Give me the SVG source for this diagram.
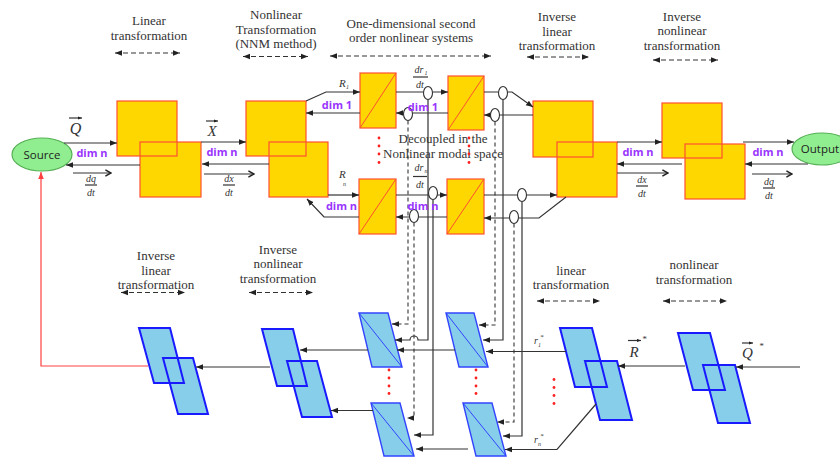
<svg xmlns="http://www.w3.org/2000/svg" width="840" height="458" viewBox="0 0 840 458">
<defs>
<marker id="ah" viewBox="0 0 10 10" refX="10" refY="5" markerWidth="7" markerHeight="7" orient="auto-start-reverse" markerUnits="userSpaceOnUse"><path d="M0,1 L10,5 L0,9 z" fill="#222"/></marker>
<marker id="ahr" viewBox="0 0 10 10" refX="10" refY="5" markerWidth="7" markerHeight="7" orient="auto" markerUnits="userSpaceOnUse"><path d="M0,1 L10,5 L0,9 z" fill="#ff4040"/></marker>
<marker id="sah" viewBox="0 0 10 10" refX="10" refY="5" markerWidth="4" markerHeight="4" orient="auto" markerUnits="userSpaceOnUse"><path d="M0,1 L10,5 L0,9 z" fill="#222"/></marker>
<marker id="chev" viewBox="0 0 10 10" refX="9" refY="5" markerWidth="8" markerHeight="8" orient="auto" markerUnits="userSpaceOnUse"><path d="M2,1 L9,5 L2,9" fill="none" stroke="#222" stroke-width="1.8"/></marker>
</defs>
<style>
.ser{font-family:"Liberation Serif","DejaVu Serif",serif;font-size:13px;fill:#333;text-anchor:middle}
.it{font-family:"Liberation Serif","DejaVu Serif",serif;font-style:italic;fill:#333}
.fr{font-family:"Liberation Serif","DejaVu Serif",serif;font-style:italic;font-size:10px;fill:#333;text-anchor:middle}
.dim{font-family:"Open Sans","Liberation Sans",sans-serif;font-size:11px;font-weight:bold;fill:#9933ff;text-anchor:middle}
.ell{font-family:"Open Sans","Liberation Sans",sans-serif;font-size:11.5px;fill:#222;text-anchor:middle}
.yf{fill:#ffd700;stroke:none}
.ys{fill:none;stroke:#ff5030;stroke-width:1.2}
.bf{fill:#87ceeb;stroke:none}
.bs{fill:none;stroke:#1a1aff;stroke-width:2}
.bs2{fill:none;stroke:#3344ff;stroke-width:1.4}
.bd{stroke:#3344ff;stroke-width:1}
.yd{stroke:#ff5030;stroke-width:1}
.ln{fill:none;stroke:#333;stroke-width:1.2}
.da{fill:none;stroke:#333;stroke-width:1.2;stroke-dasharray:5,3}
.dsh{fill:none;stroke:#333;stroke-width:1.1;stroke-dasharray:4,3}
.oc{fill:#fff;stroke:#333;stroke-width:1.1}
.rd{fill:#ff2020}
</style>

<!-- section labels -->
<g id="labels">
<text class="ser" x="149" y="25">Linear</text>
<text class="ser" x="149" y="40">transformation</text>
<text class="ser" x="276" y="18.5">Nonlinear</text>
<text class="ser" x="276" y="33.5">Transformation</text>
<text class="ser" x="276" y="48">(NNM method)</text>
<text class="ser" x="411" y="27.5">One-dimensional second</text>
<text class="ser" x="411" y="42">order nonlinear systems</text>
<text class="ser" x="557" y="20.5">Inverse</text>
<text class="ser" x="557" y="36">linear</text>
<text class="ser" x="557" y="50">transformation</text>
<text class="ser" x="682" y="20.5">Inverse</text>
<text class="ser" x="682" y="35">nonlinear</text>
<text class="ser" x="682" y="49.5">transformation</text>
<text class="ser" x="443" y="143">Decoupled in the</text>
<text class="ser" x="443" y="157.5">Nonlinear modal space</text>
<text class="ser" x="156" y="259.5">Inverse</text>
<text class="ser" x="156" y="274.5">linear</text>
<text class="ser" x="156" y="288.5">transformation</text>
<text class="ser" x="278" y="253.5">Inverse</text>
<text class="ser" x="278" y="268">nonlinear</text>
<text class="ser" x="278" y="283">transformation</text>
<text class="ser" x="571" y="275">linear</text>
<text class="ser" x="571" y="289">transformation</text>
<text class="ser" x="694" y="268.5">nonlinear</text>
<text class="ser" x="694" y="283.5">transformation</text>
</g>

<!-- dashed span arrows -->
<g id="spans">
<path class="da" d="M115,53 L180,53" marker-start="url(#ah)" marker-end="url(#ah)"/>
<path class="da" d="M243,56.5 L308,56.5" marker-start="url(#ah)" marker-end="url(#ah)"/>
<path class="da" d="M330,56 L491,56" marker-start="url(#ah)" marker-end="url(#ah)"/>
<path class="da" d="M527,57 L589,57" marker-start="url(#ah)" marker-end="url(#ah)"/>
<path class="da" d="M653,60 L718,60" marker-start="url(#ah)" marker-end="url(#ah)"/>
<path class="da" d="M121,292.5 L185,292.5" marker-start="url(#ah)" marker-end="url(#ah)"/>
<path class="da" d="M249,292.5 L313,292.5" marker-start="url(#ah)" marker-end="url(#ah)"/>
<path class="da" d="M537,301 L600,301" marker-start="url(#ah)" marker-end="url(#ah)"/>
<path class="da" d="M663,301 L727,301" marker-start="url(#ah)" marker-end="url(#ah)"/>
</g>

<!-- nodes: top -->
<g id="source"><ellipse cx="42" cy="154.5" rx="30" ry="16.5" fill="#90ee90" stroke="#55b055" stroke-width="1.2"/><text class="ell" x="42" y="158.5">Source</text></g>
<g id="output"><ellipse cx="822" cy="149" rx="30" ry="16" fill="#90ee90" stroke="#55b055" stroke-width="1.2"/><text class="ell" x="820" y="153">Output</text></g>

<g id="linear-transform">
<rect class="yf" x="117" y="101" width="60" height="55"/><rect class="yf" x="140" y="142" width="61" height="55"/>
<rect class="ys" x="117" y="101" width="60" height="55"/><rect class="ys" x="140" y="142" width="61" height="55"/>
</g>
<g id="nonlinear-transform">
<rect class="yf" x="246" y="101" width="60" height="55"/><rect class="yf" x="269" y="142" width="59" height="55"/>
<rect class="ys" x="246" y="101" width="60" height="55"/><rect class="ys" x="269" y="142" width="59" height="55"/>
</g>
<g id="inv-linear-transform">
<rect class="yf" x="533" y="101" width="60" height="56"/><rect class="yf" x="557" y="142" width="60" height="55"/>
<rect class="ys" x="533" y="101" width="60" height="56"/><rect class="ys" x="557" y="142" width="60" height="55"/>
</g>
<g id="inv-nonlinear-transform">
<rect class="yf" x="662" y="103" width="60" height="55"/><rect class="yf" x="685" y="144" width="60" height="55"/>
<rect class="ys" x="662" y="103" width="60" height="55"/><rect class="ys" x="685" y="144" width="60" height="55"/>
</g>
<g id="sys1a"><rect class="yf" x="360" y="73" width="36" height="55"/><rect class="ys" x="360" y="73" width="36" height="55"/><line class="yd" x1="360" y1="128" x2="396" y2="73"/></g>
<g id="sys1b"><rect class="yf" x="448" y="76" width="36" height="54"/><rect class="ys" x="448" y="76" width="36" height="54"/><line class="yd" x1="448" y1="130" x2="484" y2="76"/></g>
<g id="sysna"><rect class="yf" x="359" y="179" width="37" height="55"/><rect class="ys" x="359" y="179" width="37" height="55"/><line class="yd" x1="359" y1="234" x2="396" y2="179"/></g>
<g id="sysnb"><rect class="yf" x="447" y="179" width="37" height="55"/><rect class="ys" x="447" y="179" width="37" height="55"/><line class="yd" x1="447" y1="234" x2="484" y2="179"/></g>

<!-- nodes: bottom -->
<g id="b-inv-linear">
<polygon class="bf" points="139,328 170,328 184,383 154,383"/><polygon class="bf" points="163,358 193,358 208,414 178,414"/>
<polygon class="bs" points="139,328 170,328 184,383 154,383"/><polygon class="bs" points="163,358 193,358 208,414 178,414"/>
</g>
<g id="b-inv-nonlinear">
<polygon class="bf" points="262,329 293,329 307,386 277,386"/><polygon class="bf" points="287,361 317,361 332,417 302,417"/>
<polygon class="bs" points="262,329 293,329 307,386 277,386"/><polygon class="bs" points="287,361 317,361 332,417 302,417"/>
</g>
<g id="b-sys1a"><polygon class="bf" points="359,313 388,313 402,367 372,367"/><polygon class="bs2" points="359,313 388,313 402,367 372,367"/><line class="bd" x1="359" y1="313" x2="402" y2="367"/></g>
<g id="b-sysna"><polygon class="bf" points="371,403 400,403 414,456 384,456"/><polygon class="bs2" points="371,403 400,403 414,456 384,456"/><line class="bd" x1="371" y1="403" x2="414" y2="456"/></g>
<g id="b-sys1b"><polygon class="bf" points="446,313 474,313 488,367 459,367"/><polygon class="bs2" points="446,313 474,313 488,367 459,367"/><line class="bd" x1="446" y1="313" x2="488" y2="367"/></g>
<g id="b-sysnb"><polygon class="bf" points="463,403 492,403 506,456 476,456"/><polygon class="bs2" points="463,403 492,403 506,456 476,456"/><line class="bd" x1="463" y1="403" x2="506" y2="456"/></g>
<g id="b-linear">
<polygon class="bf" points="560,328 592,328 607,387 575,387"/><polygon class="bf" points="585,361 617,361 632,420 600,420"/>
<polygon class="bs" points="560,328 592,328 607,387 575,387"/><polygon class="bs" points="585,361 617,361 632,420 600,420"/>
</g>
<g id="b-nonlinear">
<polygon class="bf" points="678,333 710,333 725,390 693,390"/><polygon class="bf" points="703,365 735,365 750,423 718,423"/>
<polygon class="bs" points="678,333 710,333 725,390 693,390"/><polygon class="bs" points="703,365 735,365 750,423 718,423"/>
</g>

<!-- connectors -->
<g id="connectors">
<path class="ln" d="M64,143 L117,143" marker-end="url(#ah)"/>
<path class="ln" d="M140,165 L66,165" marker-end="url(#ah)"/>
<path class="ln" d="M73,173 L111,173" marker-end="url(#chev)"/>
<path class="ln" d="M201,142 L246,142" marker-end="url(#ah)"/>
<path class="ln" d="M269,164 L202,164" marker-end="url(#ah)"/>
<path class="ln" d="M204,174 L254,174" marker-end="url(#chev)"/>
<path class="ln" d="M306,101 L326,92 L360,92" marker-end="url(#ah)"/>
<path class="ln" d="M360,113 L306,113" marker-end="url(#ah)"/>
<path class="ln" d="M328,195 L359,195" marker-end="url(#ah)"/>
<path class="ln" d="M359,217 L324,217 L307,199" marker-end="url(#ah)"/>
<path class="ln" d="M396,92 L448,92" marker-end="url(#ah)"/>
<path class="ln" d="M448,113 L396,113" marker-end="url(#ah)"/>
<path class="ln" d="M396,195 L447,195" marker-end="url(#ah)"/>
<path class="ln" d="M447,217 L396,217" marker-end="url(#ah)"/>
<path class="ln" d="M484,92 L512,92 L533,107" marker-end="url(#ah)"/>
<path class="ln" d="M533,115 L484,115" marker-end="url(#ah)"/>
<path class="ln" d="M484,195 L557,195" marker-end="url(#ah)"/>
<path class="ln" d="M566,197 L539,218 L484,218" marker-end="url(#ah)"/>
<path class="ln" d="M617,142 L662,142" marker-end="url(#ah)"/>
<path class="ln" d="M682,164 L617,164" marker-end="url(#ah)"/>
<path class="ln" d="M617,173 L668,173" marker-end="url(#chev)"/>
<path class="ln" d="M743,142 L794,142" marker-end="url(#ah)"/>
<path class="ln" d="M808,164 L745,164" marker-end="url(#ah)"/>
<path class="ln" d="M752,174 L792,174" marker-end="url(#chev)"/>
<!-- vertical feeds -->
<path class="dsh" d="M408,120.5 L408,324 L398,324"/><path class="ln" d="M398,324 L392,324" marker-end="url(#ah)"/>
<path class="ln" d="M428,99.5 L428,340 L418,340 A4,4 0 0 0 410,340 L395,340" marker-end="url(#ah)"/>
<path class="dsh" d="M414,222.5 L414,418 L407,418" marker-end="url(#ah)"/>
<path class="ln" d="M433,199.5 L433,435 L414,435" marker-end="url(#ah)"/>
<path class="dsh" d="M495,121.5 L495,325 L479,325" marker-end="url(#ah)"/>
<path class="ln" d="M503,99.5 L503,340 L483,340" marker-end="url(#ah)"/>
<path class="dsh" d="M514,223.5 L514,422 L497,422" marker-end="url(#ah)"/>
<path class="ln" d="M522,201.5 L522,436 L503,436" marker-end="url(#ah)"/>
<!-- bottom -->
<path d="M148,366 L41,366 L41,172" fill="none" stroke="#ff4040" stroke-width="1.2" marker-end="url(#ahr)"/>
<path class="ln" d="M270,367 L196,367" marker-end="url(#ah)"/>
<path class="ln" d="M368,350 L300,350" marker-end="url(#ah)"/>
<path class="ln" d="M373,410.5 L331,410.5" marker-end="url(#ah)"/>
<path class="ln" d="M455,350 L397,350" marker-end="url(#ah)"/>
<path class="ln" d="M468,449 L416,449" marker-end="url(#ah)"/>
<path class="ln" d="M566,351.5 L486,351.5" marker-end="url(#ah)"/>
<path class="ln" d="M596,404 L557,449.5 L505,449.5" marker-end="url(#ah)"/>
<path class="ln" d="M685,366 L618,366" marker-end="url(#ah)"/>
<path class="ln" d="M800,367 L736,367" marker-end="url(#ah)"/>
<!-- junction ovals -->
<ellipse class="oc" cx="428" cy="93" rx="4.5" ry="6.5"/>
<ellipse class="oc" cx="408" cy="114" rx="4.5" ry="6.5"/>
<ellipse class="oc" cx="433" cy="193" rx="4.5" ry="6.5"/>
<ellipse class="oc" cx="414" cy="216" rx="4.5" ry="6.5"/>
<ellipse class="oc" cx="503" cy="93" rx="4.5" ry="6.5"/>
<ellipse class="oc" cx="495" cy="115" rx="4.5" ry="6.5"/>
<ellipse class="oc" cx="522" cy="195" rx="4.5" ry="6.5"/>
<ellipse class="oc" cx="514" cy="217" rx="4.5" ry="6.5"/>
</g>

<!-- dots -->
<g id="dots">
<circle class="rd" cx="379" cy="138" r="1.4"/><circle class="rd" cx="379" cy="146" r="1.4"/><circle class="rd" cx="379" cy="154" r="1.4"/><circle class="rd" cx="379" cy="162.5" r="1.4"/>
<circle class="rd" cx="469" cy="138" r="1.4"/><circle class="rd" cx="469" cy="146" r="1.4"/><circle class="rd" cx="469" cy="154" r="1.4"/><circle class="rd" cx="469" cy="162.5" r="1.4"/>
<circle class="rd" cx="389" cy="370" r="1.4"/><circle class="rd" cx="389" cy="378" r="1.4"/><circle class="rd" cx="389" cy="386" r="1.4"/><circle class="rd" cx="389" cy="393.5" r="1.4"/>
<circle class="rd" cx="476" cy="370" r="1.4"/><circle class="rd" cx="476" cy="378" r="1.4"/><circle class="rd" cx="476" cy="386" r="1.4"/><circle class="rd" cx="476" cy="393.5" r="1.4"/>
<circle class="rd" cx="554" cy="379.5" r="1.4"/><circle class="rd" cx="554" cy="387.5" r="1.4"/><circle class="rd" cx="554" cy="395.5" r="1.4"/><circle class="rd" cx="554" cy="403.5" r="1.4"/>
</g>

<!-- connector labels -->
<g id="conn-labels">
<text class="dim" x="92" y="157">dim n</text>
<text class="dim" x="222" y="156">dim n</text>
<text class="dim" x="337" y="109">dim 1</text>
<text class="dim" x="423" y="111">dim 1</text>
<text class="dim" x="341.5" y="210">dim n</text>
<text class="dim" x="423" y="210">dim n</text>
<text class="dim" x="638" y="156">dim n</text>
<text class="dim" x="768" y="155.5">dim n</text>
<text class="it" x="75.5" y="134" font-size="16" text-anchor="middle">Q</text><path class="ln" d="M69,118 L82,118" stroke-width="1" marker-end="url(#sah)"/>
<text class="it" x="212" y="136" font-size="15" text-anchor="middle">X</text><path class="ln" d="M206,121 L218,121" stroke-width="1" marker-end="url(#sah)"/>
<text class="it" x="339" y="87" font-size="11">R</text><text class="it" x="346" y="89" font-size="6">1</text>
<text class="it" x="339" y="178" font-size="11">R</text><text class="it" x="343" y="186" font-size="6">n</text>
<text class="fr" x="91" y="182">dq</text><line class="ln" x1="85" y1="185" x2="97" y2="185" stroke-width="0.8"/><text class="fr" x="91" y="196">dt</text>
<text class="fr" x="229" y="182">dx</text><line class="ln" x1="223" y1="185" x2="235" y2="185" stroke-width="0.8"/><text class="fr" x="229" y="196">dt</text>
<text class="fr" x="642" y="183">dx</text><line class="ln" x1="636" y1="186" x2="648" y2="186" stroke-width="0.8"/><text class="fr" x="642" y="197">dt</text>
<text class="fr" x="769" y="185">dq</text><line class="ln" x1="763" y1="188" x2="775" y2="188" stroke-width="0.8"/><text class="fr" x="769" y="199">dt</text>
<text class="fr" x="419" y="73">dr</text><text class="it" x="424.5" y="75" font-size="6">1</text><line class="ln" x1="413" y1="77" x2="428" y2="77" stroke-width="0.8"/><text class="fr" x="420" y="88">dt</text>
<text class="fr" x="419" y="171">dr</text><text class="it" x="424.5" y="173" font-size="6">n</text><line class="ln" x1="413" y1="176.5" x2="427" y2="176.5" stroke-width="0.8"/><text class="fr" x="420" y="187.5">dt</text>
<text class="it" x="534" y="344" font-size="10">r</text><text class="it" x="538" y="346.5" font-size="6">1</text><text class="it" x="540" y="339" font-size="7">*</text>
<text class="it" x="534" y="443" font-size="10">r</text><text class="it" x="538" y="445.5" font-size="6">n</text><text class="it" x="540" y="438" font-size="7">*</text>
<text class="it" x="634" y="357" font-size="15" text-anchor="middle">R</text><path class="ln" d="M628,340.5 L641,340.5" stroke-width="1" marker-end="url(#sah)"/><text class="it" x="642" y="342" font-size="9">*</text>
<text class="it" x="747.5" y="358" font-size="15" text-anchor="middle">Q</text><path class="ln" d="M742,343 L753,343" stroke-width="1" marker-end="url(#sah)"/><text class="it" x="759" y="349" font-size="9">*</text>
</g>
</svg>
